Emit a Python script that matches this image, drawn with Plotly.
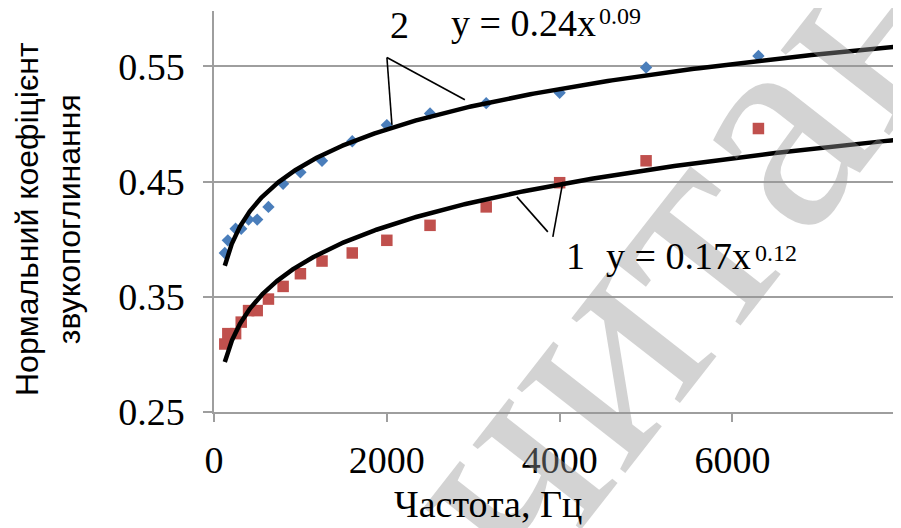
import numpy as np
import plotly.graph_objects as go

# ---- data ----
freq = [125, 160, 250, 315, 400, 500, 630, 800, 1000, 1250, 1600, 2000,
        2500, 3150, 4000, 5000, 6300, 8000]
alpha_2 = [0.388, 0.399, 0.409, 0.409, 0.417, 0.417, 0.428, 0.448, 0.458, 0.468,
           0.485, 0.499, 0.509, 0.518, 0.527, 0.549, 0.559, 0.579]
alpha_1 = [0.309, 0.318, 0.318, 0.328, 0.338, 0.338, 0.348, 0.359, 0.370, 0.381,
           0.388, 0.399, 0.412, 0.428, 0.449, 0.468, 0.496, 0.515]
x_ticks = [0, 2000, 4000, 6000]
y_ticks = [0.25, 0.35, 0.45, 0.55]
eq_1_base, eq_1_exp = "y = 0.17x", "0.12"
eq_2_base, eq_2_exp = "y = 0.24x", "0.09"

# page is drawn with an 8px body margin
OFF = 8
W, H = 901 - OFF, 528 - OFF
L, R, T, B = 214 - OFF, 0, 11 - OFF, 116


def px(xp, yp):
    xf, yf = xp - OFF, yp - OFF
    return (xf - L) / (W - L - R), (H - B - yf) / (H - B - T)


def power_fit(x, y):
    b, ln_a = np.polyfit(np.log(x), np.log(y), 1)
    xs = np.geomspace(min(x), max(x), 400)
    return xs, np.exp(ln_a) * xs ** b


fig = go.Figure()
fig.add_trace(go.Scatter(x=freq, y=alpha_2, mode="markers",
                         marker=dict(symbol="diamond", size=9.5, color="#4A7EBB")))
fig.add_trace(go.Scatter(x=freq, y=alpha_1, mode="markers",
                         marker=dict(symbol="square", size=11.5, color="#C0504D")))
for ys in (alpha_2, alpha_1):
    xs, yf = power_fit(freq, ys)
    fig.add_trace(go.Scatter(x=xs, y=yf, mode="lines",
                             line=dict(color="black", width=4.5)))

serif = "Liberation Serif, Times New Roman, serif"
sans = "Liberation Sans, Arial, sans-serif"
grey = "#9e9e9e"

fig.update_layout(
    width=W, height=H, margin=dict(l=L, r=R, t=T, b=B, pad=0),
    plot_bgcolor="white", paper_bgcolor="white", showlegend=False,
    xaxis=dict(range=[0, 7950], tickvals=x_ticks, ticktext=[str(v) for v in x_ticks],
               showgrid=False, zeroline=False, showline=True, linecolor=grey,
               linewidth=1.5, ticks="outside", ticklen=8, tickcolor=grey, tickwidth=1.5,
               tickfont=dict(family=serif, size=38, color="black"),
               ticklabelstandoff=6),
    yaxis=dict(range=[0.25, 0.598], tickvals=y_ticks,
               ticktext=[f"{v:.2f}" for v in y_ticks],
               showgrid=True, gridcolor=grey, gridwidth=1.5, zeroline=False,
               showline=True, linecolor=grey, linewidth=1.5, ticks="outside",
               ticklen=9, tickcolor=grey, tickwidth=1.5,
               tickfont=dict(family=serif, size=38, color="black"),
               ticklabelstandoff=11),
)

# leader lines (data coordinates)
leaders = [
    ((2001, 0.5576), (2059, 0.4993)),
    ((2001, 0.5576), (2903, 0.5210)),
    ((3505, 0.4367), (3863, 0.4063)),
    ((4037, 0.4497), (3921, 0.4019)),
]
for (x0, y0), (x1, y1) in leaders:
    fig.add_shape(type="line", x0=x0, y0=y0, x1=x1, y1=y1, xref="x", yref="y",
                  line=dict(color="black", width=1.6))


def ann(text, xp, yp, xanchor, yanchor, size, family=serif, angle=0, color="black"):
    ax, ay = px(xp, yp)
    fig.add_annotation(text=text, x=ax, y=ay, xref="paper", yref="paper",
                       xanchor=xanchor, yanchor=yanchor, showarrow=False,
                       textangle=angle, font=dict(family=family, size=size, color=color))


# watermark (drawn first so labels sit above it)
ann("читання", 769, 125, "center", "middle", 300, angle=-52,
    color="rgba(150,150,150,0.42)")
# equation labels: baseline + descent used as box bottom
ann("2", 399, 48, "center", "bottom", 38)
ann(eq_2_base, 449, 46, "left", "bottom", 38)
ann(eq_2_exp, 597, 31, "left", "bottom", 24)
ann("1", 575, 279, "center", "bottom", 38)
ann(eq_1_base, 604, 279, "left", "bottom", 38)
ann(eq_1_exp, 753, 268, "left", "bottom", 24)
ann("Нормальний коефіцієнт<br>звукопоглинання", 48, 219, "center", "middle", 32,
    family=sans, angle=-90)
ann("Частота, Гц", 488, 527, "center", "bottom", 38)

fig.write_html("out.html")
